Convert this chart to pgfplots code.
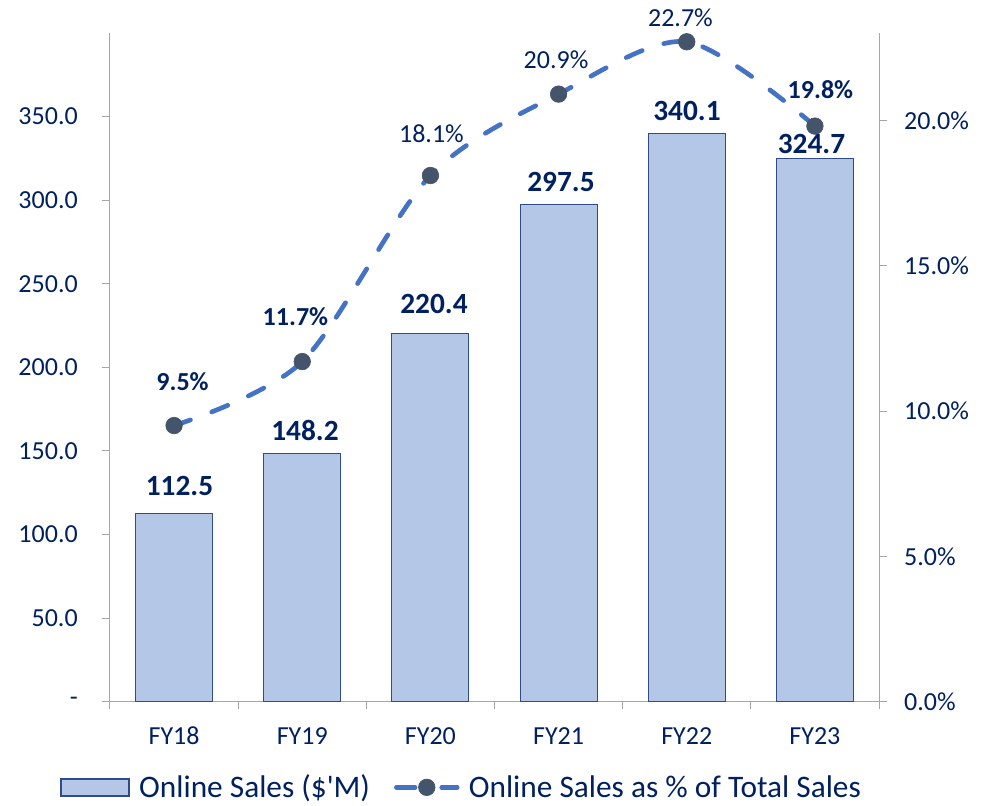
\documentclass[border=0pt]{standalone}
\usepackage{pgfplots}
\pgfplotsset{compat=1.18}
\usepackage{fontspec}
\setmainfont{Carlito}[Ligatures=TeXOff]
\definecolor{barfill}{HTML}{B4C7E7}
\definecolor{baredge}{HTML}{2E4B8C}
\definecolor{linec}{HTML}{4472C4}
\definecolor{markc}{HTML}{44546A}
\definecolor{txt}{HTML}{002060}
\definecolor{axgrey}{HTML}{A6A6A6}
\pgfplotsset{
 barleg/.style={legend image code/.code={\draw[##1] (0pt,-6.375pt) rectangle (51pt,6.375pt);}},
 lineleg/.style={legend image code/.code={\draw[mark repeat=2, mark phase=2, ##1, dash pattern=on 14pt off 20pt]
     plot coordinates {(1.6pt,0pt) (24.4pt,0pt) (47.2pt,0pt)};}},
 common/.style={at={(0pt,0pt)}, anchor=south west, scale only axis,
   width=576.75pt, height=501.5pt, xmin=-0.5, xmax=5.5, clip=false,
   axis line style={draw=axgrey, line width=0.75pt, -},
   tick style={draw=axgrey, line width=0.75pt}, tick align=outside,
   ticklabel style={font=\fontsize{19.5}{23}\selectfont, text=txt, inner sep=0pt}},
}
\begin{document}
\begin{tikzpicture}
\useasboundingbox (-82.5pt,-77.5pt) rectangle (653.25pt,526.3pt);
\begin{axis}[common, ymin=0, ymax=400, axis x line*=bottom, axis y line*=left,
 xtick={0,...,5}, xticklabels={FY18,FY19,FY20,FY21,FY22,FY23},
 major x tick style={draw=none},
 minor xtick={-0.5,0.5,1.5,2.5,3.5,4.5,5.5}, minor tick length=5.6pt,
 ytick={0,50,...,350},
 yticklabels={-\hspace{8.25pt},50.0,100.0,150.0,200.0,250.0,300.0,350.0},
 major tick length=6.2pt,
 yticklabel style={anchor=east, xshift=-17.8pt},
 xticklabel style={anchor=base, yshift=-25.8pt},
]
\addplot[ybar, bar width=0.6, fill=barfill, draw=baredge, line width=0.75pt]
 coordinates {(0,112.5) (1,148.2) (2,220.4) (3,297.5) (4,340.1) (5,324.7)};
\begin{scope}[every node/.style={anchor=base, inner sep=0pt, text=txt, font=\fontsize{22}{26}\selectfont\bfseries}]
\node at (axis cs:0.0422,123.2) {112.5};
\node at (axis cs:1.0214,156.5) {148.2};
\node at (axis cs:2.028,232.3) {220.4};
\node at (axis cs:3.0188,305.1) {297.5};
\node at (axis cs:4.0018,347.5) {340.1};
\node at (axis cs:4.973,328.0) {324.7};
\end{scope}
\end{axis}
\begin{axis}[common, ymin=0, ymax=23, axis x line=none, axis y line*=right,
 ytick={0,5,10,15,20}, yticklabels={0.0\%,5.0\%,10.0\%,15.0\%,20.0\%},
 major tick length=6.2pt,
 yticklabel style={anchor=west, xshift=12.5pt},
 legend style={at={(-0.065,-0.128)}, anchor=west, draw=none, fill=none,
   inner sep=0pt, font=\fontsize{23.5}{28}\selectfont, text=txt,
   nodes={inner sep=0pt},
   /tikz/every odd column/.append style={column sep=7pt},
   /tikz/every even column/.append style={column sep=18pt}},
 legend columns=-1,
]
\addlegendimage{fill=barfill, draw=baredge, line width=1.2pt, barleg}
\addlegendentry{Online Sales (\$'M)}
\addplot[smooth, color=linec, line width=3.5pt, dash pattern=on 13pt off 17pt,
  line cap=round, mark=*, mark size=6.2pt,
  mark options={solid, line width=0.5pt, fill=markc, draw=markc}, lineleg]
 coordinates {(0,9.5) (1,11.7) (2,18.1) (3,20.9) (4,22.7) (5,19.8)};
\addlegendentry{Online Sales as \% of Total Sales}
\begin{scope}[every node/.style={anchor=base, inner sep=0pt, text=txt, font=\fontsize{19.5}{23}\selectfont}]
\node[font=\fontsize{19.5}{23}\selectfont\bfseries] at (axis cs:0.0657,10.721) {9.5\%};
\node[font=\fontsize{19.5}{23}\selectfont\bfseries] at (axis cs:0.947,12.932) {11.7\%};
\node at (axis cs:2.008,19.227) {18.1\%};
\node at (axis cs:2.980,21.786) {20.9\%};
\node at (axis cs:3.951,23.241) {22.7\%};
\node[font=\fontsize{19.5}{23}\selectfont\bfseries] at (axis cs:5.043,20.754) {19.8\%};
\end{scope}
\end{axis}
\end{tikzpicture}
\end{document}
